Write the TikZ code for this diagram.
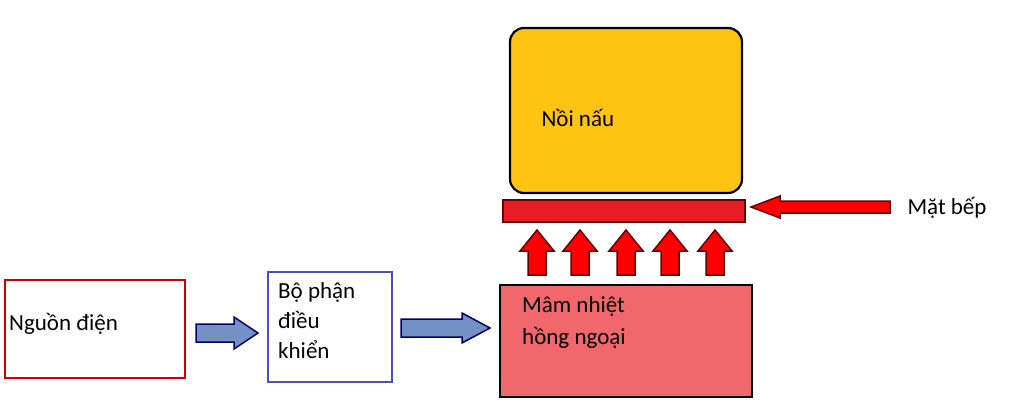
\documentclass[tikz,border=0pt]{standalone}
\usepackage{fontspec}
\setmainfont{Carlito}
\definecolor{potY}{HTML}{FFC412}
\definecolor{heatR}{HTML}{F0676C}
\definecolor{plateR}{HTML}{E81C24}
\definecolor{arrB}{HTML}{7391C4}
\definecolor{ctlB}{HTML}{4A50C0}
\begin{document}
\begin{tikzpicture}[x=1pt,y=-1pt,font=\fontsize{23}{27}\selectfont,
  blk/.style={draw=black,line width=2.2pt},
  redarr/.style={draw=black!60!red,fill=red,line width=1.5pt,line join=miter},
  bluearr/.style={draw=black!60!blue,fill=arrB,line width=1.5pt,line join=miter}]
\useasboundingbox (0,0) rectangle (1024,407);
\draw[blk,fill=potY,rounded corners=14pt] (510,28) rectangle (742,193);
\node[anchor=west] (pot) at (538,118) {Nồi nấu};
\draw[draw=black!60!red,line width=1.8pt,fill=plateR] (503,200) rectangle (745,222);
\draw[redarr] (890,201) -- (780,201) -- (780,196) -- (751,207) -- (780,218) -- (780,213) -- (890,213) -- cycle;
\node[anchor=west] (matbep) at (904,208) {Mặt bếp};
\foreach \x in {537,580,626,670,715}
  \draw[redarr] (\x-9,275) -- (\x-9,251) -- (\x-17,251) -- (\x,230) -- (\x+17,251) -- (\x+9,251) -- (\x+9,275) -- cycle;
\draw[blk,fill=heatR] (500,285) rectangle (752,397);
\node[anchor=north west,align=left,inner sep=0pt,font=\fontsize{23}{32}\selectfont] (heat) at (522,296) {Mâm nhiệt\\hồng ngoại};
\draw[draw=red!80!black,line width=2pt] (5,280) rectangle (185,378);
\node[anchor=west,inner sep=0pt] (src) at (9,324) {Nguồn điện};
\draw[draw=ctlB,line width=2pt] (268,272) rectangle (392,382);
\node[anchor=north west,align=left,inner sep=0pt,font=\fontsize{23}{30}\selectfont] (ctl) at (278,282) {Bộ phận\\điều\\khiển};
\draw[bluearr] (196,324) -- (234,324) -- (234,317) -- (258,333) -- (234,349) -- (234,342) -- (196,342) -- cycle;
\draw[bluearr] (401,319) -- (462,319) -- (462,313) -- (490,328) -- (462,343) -- (462,337) -- (401,337) -- cycle;
\end{tikzpicture}
\end{document}
